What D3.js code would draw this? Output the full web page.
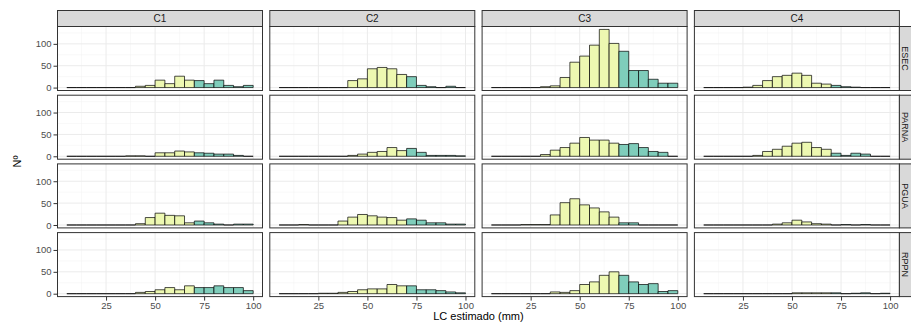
<!DOCTYPE html>
<html>
<head>
<meta charset="utf-8">
<script src="https://cdn.jsdelivr.net/npm/d3@7"></script>
<style>
  body { margin: 0; background: #fff; }
  svg { display: block; font-family: 'Liberation Sans', Arial, sans-serif; }
</style>
</head>
<body>
<svg id="chart"></svg>
<script>
// facets
const classes = ['C1', 'C2', 'C3', 'C4']
const areas = ['ESEC', 'PARNA', 'PGUA', 'RPPN']
// histogram bins: start of each 5 mm bin, 5..95
const binStarts = [5, 10, 15, 20, 25, 30, 35, 40, 45, 50, 55, 60, 65, 70, 75, 80, 85, 90, 95]
const binWidth = 5
const matureFrom = 70
const xTicks = [25, 50, 75, 100]
const yTicks = [0, 50, 100]

// counts per bin
const ESEC_C1 = [0, 0, 0, 0, 0, 0, 0, 3, 5, 17, 9, 26, 17, 16, 9, 17, 5, 2, 5]
const ESEC_C2 = [0, 0, 0, 0, 0, 0, 0, 16, 20, 43, 46, 43, 30, 25, 5, 2, 0, 3, 0]
const ESEC_C3 = [0, 0, 0, 0, 0, 2, 4, 23, 58, 72, 97, 133, 101, 83, 39, 39, 19, 10, 10]
const ESEC_C4 = [0, 0, 0, 0, 1, 5, 16, 25, 28, 33, 28, 10, 8, 5, 2, 1, 0, 0, 0]
const PARNA_C1 = [0, 0, 0, 0, 0, 0, 1, 1, 0, 8, 8, 12, 10, 8, 7, 5, 5, 2, 0]
const PARNA_C2 = [0, 0, 0, 0, 0, 0, 0, 2, 5, 9, 11, 20, 13, 18, 9, 2, 2, 2, 1]
const PARNA_C3 = [0, 0, 0, 0, 0, 4, 14, 20, 30, 43, 37, 37, 30, 27, 29, 20, 11, 9, 0]
const PARNA_C4 = [0, 0, 0, 0, 0, 2, 11, 16, 23, 30, 32, 20, 16, 7, 2, 7, 5, 0, 0]
const PGUA_C1 = [0, 0, 0, 0, 0, 0, 0, 3, 17, 27, 22, 21, 5, 9, 5, 2, 0, 2, 2]
const PGUA_C2 = [0, 0, 1, 0, 0, 0, 9, 18, 24, 21, 18, 17, 11, 14, 11, 5, 5, 2, 2]
const PGUA_C3 = [0, 0, 0, 1, 1, 1, 23, 51, 60, 46, 39, 30, 18, 5, 5, 0, 0, 0, 0]
const PGUA_C4 = [0, 0, 0, 0, 0, 0, 0, 2, 5, 11, 7, 3, 2, 0, 1, 0, 1, 0, 0]
const RPPN_C1 = [0, 0, 0, 0, 0, 0, 0, 3, 5, 9, 14, 9, 18, 14, 14, 18, 14, 14, 7]
const RPPN_C2 = [0, 0, 0, 0, 1, 1, 3, 5, 9, 11, 11, 21, 18, 18, 9, 9, 7, 4, 2]
const RPPN_C3 = [0, 0, 0, 0, 0, 0, 4, 3, 7, 21, 27, 42, 50, 42, 27, 21, 23, 5, 7]
const RPPN_C4 = [0, 0, 0, 0, 0, 0, 0, 0, 0, 2, 2, 2, 2, 2, 0, 1, 2, 0, 1]

const table = {
  ESEC: [ESEC_C1, ESEC_C2, ESEC_C3, ESEC_C4],
  PARNA: [PARNA_C1, PARNA_C2, PARNA_C3, PARNA_C4],
  PGUA: [PGUA_C1, PGUA_C2, PGUA_C3, PGUA_C4],
  RPPN: [RPPN_C1, RPPN_C2, RPPN_C3, RPPN_C4],
}

const width = 911
const height = 325
const panelW = 205
const panelH = 64
const colStep = 212.3
const rowStep = 68.7
const gridLeft = 57.5
const gridTop = 26.5
const stripH = 16
const stripR = 11.6

const svg = d3.select('#chart').attr('width', width).attr('height', height)

// shared scales (ggplot style 5% expansion)
const xMin = binStarts[0]
const xMax = binStarts[binStarts.length - 1] + binWidth
const xPad = (xMax - xMin) * 0.05
const x = d3.scaleLinear().domain([xMin - xPad, xMax + xPad]).range([0, panelW])

const yMaxData = d3.max(Object.values(table).flat(2))
const y = d3.scaleLinear()
  .domain([-yMaxData * 0.05, yMaxData * 1.05])
  .range([panelH, 0])

const fillLow = '#EDF8B1'
const fillHigh = '#7FCDBB'

// outline path so that empty bins still show as a flat line
const barPath = (d) => {
  const x0 = x(d.s), x1 = x(d.s + binWidth), y0 = y(0), y1 = y(d.n)
  return `M${x0},${y0}H${x1}V${y1}H${x0}Z`
}

areas.forEach((area, r) => {
  classes.forEach((cls, c) => {
    const g = svg.append('g')
      .attr('transform', `translate(${gridLeft + c * colStep},${gridTop + r * rowStep})`)

    // grid
    const minorX = [12.5, 37.5, 62.5, 87.5].filter((v) => v > x.domain()[0])
    const minorY = [25, 75, 125]
    g.append('rect').attr('width', panelW).attr('height', panelH).attr('fill', '#fff')
    g.append('g').selectAll('line').data(minorX).join('line')
      .attr('x1', (d) => x(d)).attr('x2', (d) => x(d))
      .attr('y1', 0).attr('y2', panelH)
      .attr('stroke', '#F2F2F2').attr('stroke-width', 0.5)
    g.append('g').selectAll('line').data(minorY).join('line')
      .attr('y1', (d) => y(d)).attr('y2', (d) => y(d))
      .attr('x1', 0).attr('x2', panelW)
      .attr('stroke', '#F2F2F2').attr('stroke-width', 0.5)
    g.append('g').selectAll('line').data(xTicks).join('line')
      .attr('x1', (d) => x(d)).attr('x2', (d) => x(d))
      .attr('y1', 0).attr('y2', panelH)
      .attr('stroke', '#EBEBEB').attr('stroke-width', 1)
    g.append('g').selectAll('line').data(yTicks).join('line')
      .attr('y1', (d) => y(d)).attr('y2', (d) => y(d))
      .attr('x1', 0).attr('x2', panelW)
      .attr('stroke', '#EBEBEB').attr('stroke-width', 1)

    // bars
    const counts = table[area][c]
    g.append('g').selectAll('path')
      .data(binStarts.map((s, i) => ({ s, n: counts[i] })))
      .join('path')
      .attr('d', barPath)
      .attr('fill', (d) => (d.s >= matureFrom ? fillHigh : fillLow))
      .attr('stroke', '#000')
      .attr('stroke-width', 0.7)

    // panel border
    g.append('rect').attr('width', panelW).attr('height', panelH)
      .attr('fill', 'none').attr('stroke', '#333').attr('stroke-width', 1)

    // top strip
    if (r === 0) {
      g.append('rect').attr('y', -stripH).attr('width', panelW).attr('height', stripH)
        .attr('fill', '#D9D9D9').attr('stroke', '#333').attr('stroke-width', 1)
      g.append('text').attr('x', panelW / 2).attr('y', -stripH / 2)
        .attr('dy', '0.35em').attr('text-anchor', 'middle')
        .attr('font-size', 10).attr('fill', '#1A1A1A').text(cls)
    }
    // right strip
    if (c === classes.length - 1) {
      g.append('rect').attr('x', panelW).attr('width', stripR + 2).attr('height', panelH)
        .attr('fill', '#D9D9D9').attr('stroke', '#333').attr('stroke-width', 1)
      g.append('text')
        .attr('transform', `translate(${panelW + stripR / 2},${panelH / 2}) rotate(90)`)
        .attr('dy', '0.35em').attr('text-anchor', 'middle')
        .attr('font-size', 9).attr('fill', '#1A1A1A').text(area)
    }
    // y axis
    if (c === 0) {
      const ay = g.append('g').call(d3.axisLeft(y).tickValues(yTicks).tickSize(4).tickPadding(2))
      ay.select('.domain').remove()
      ay.selectAll('line').attr('stroke', '#333')
      ay.selectAll('text').attr('font-size', 9.5).attr('fill', '#4D4D4D')
        .attr('font-family', null)
    }
    // x axis
    if (r === areas.length - 1) {
      const ax = g.append('g').attr('transform', `translate(0,${panelH})`)
        .call(d3.axisBottom(x).tickValues(xTicks).tickSize(4).tickPadding(2))
      ax.select('.domain').remove()
      ax.selectAll('line').attr('stroke', '#333')
      ax.selectAll('text').attr('font-size', 9.5).attr('fill', '#4D4D4D')
        .attr('font-family', null)
    }
  })
})

// axis titles
const gridRight = gridLeft + 3 * colStep + panelW
svg.append('text')
  .attr('x', (gridLeft + gridRight) / 2).attr('y', 320)
  .attr('text-anchor', 'middle').attr('font-size', 11).attr('fill', '#000')
  .text('LC estimado (mm)')
svg.append('text')
  .attr('transform', `translate(21,${gridTop + (3 * rowStep + panelH) / 2}) rotate(-90)`)
  .attr('text-anchor', 'middle').attr('font-size', 11).attr('fill', '#000')
  .text('Nº')
</script>
</body>
</html>
